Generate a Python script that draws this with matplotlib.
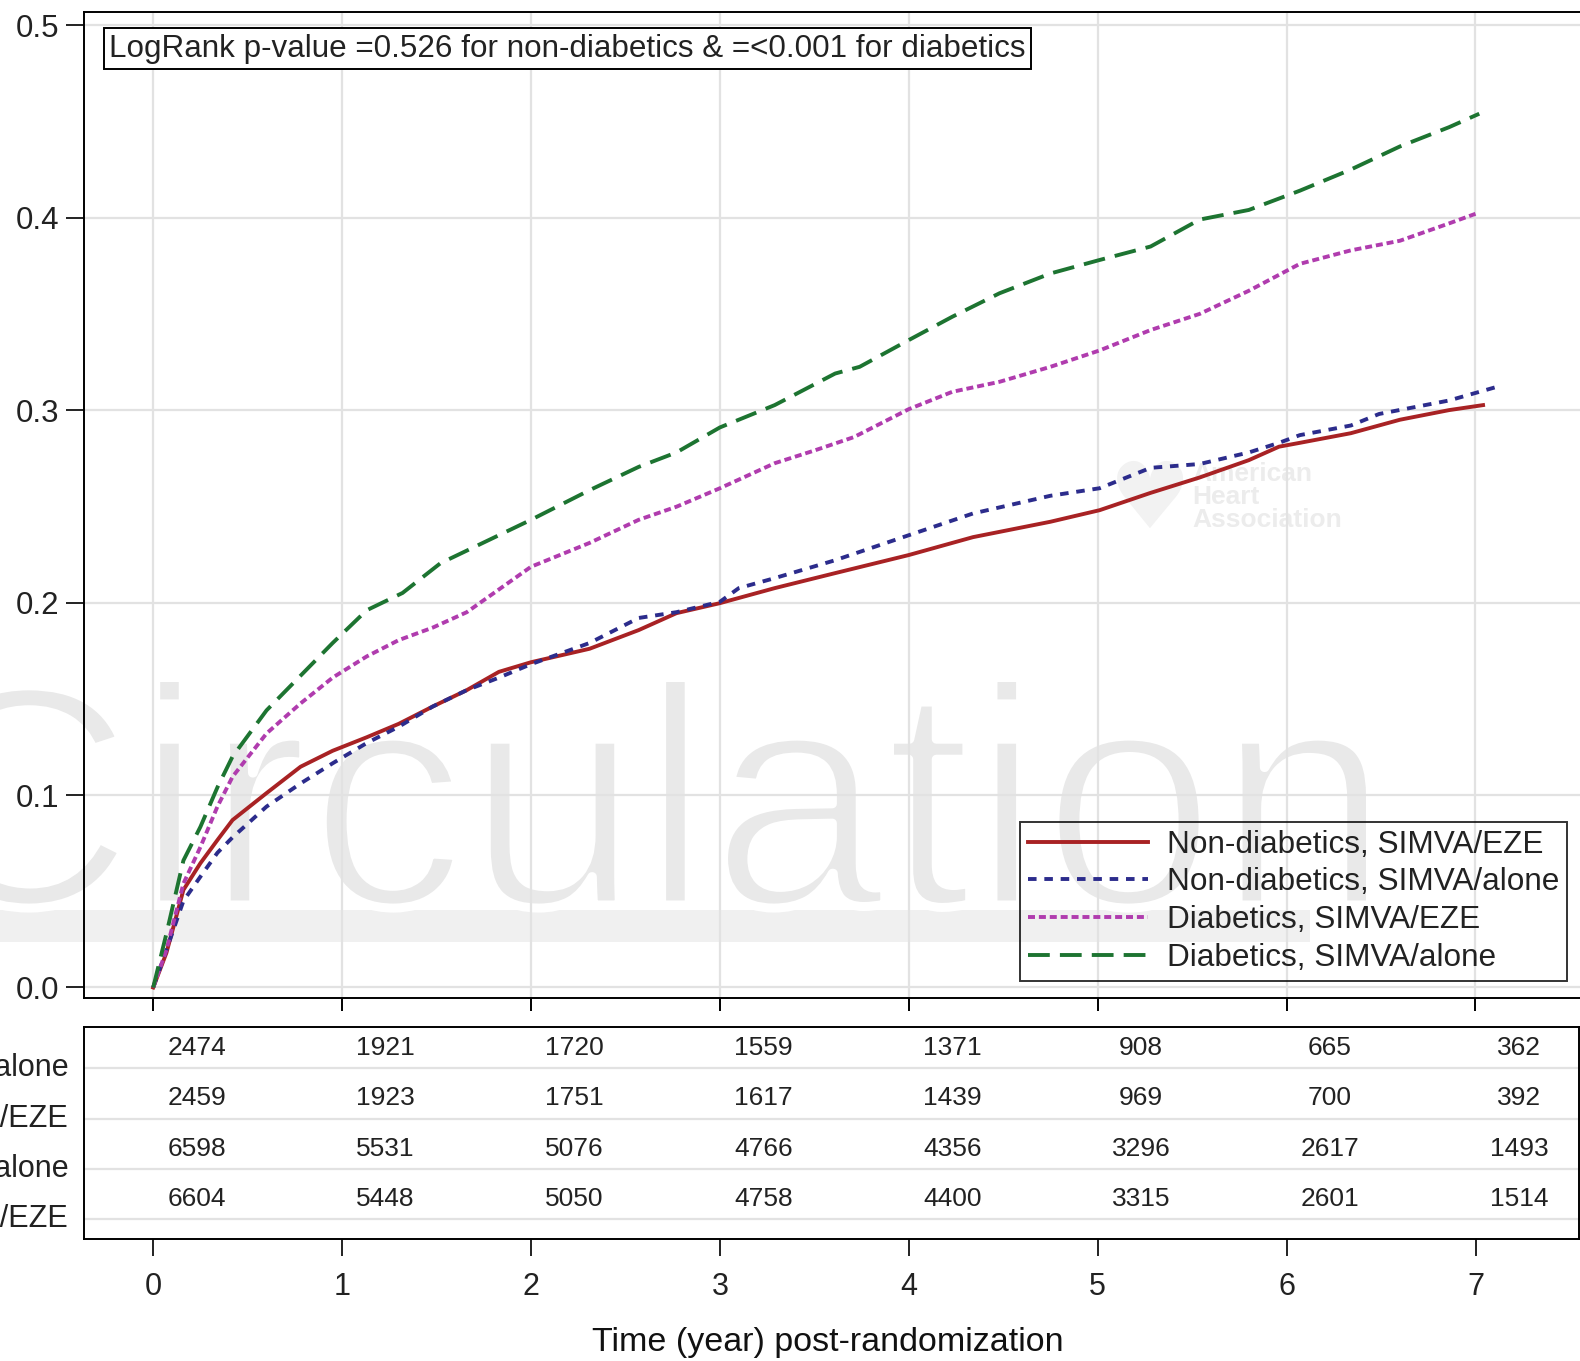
import numpy as np
import matplotlib.pyplot as plt
import matplotlib.patheffects as pe
from matplotlib.patches import Rectangle

plt.rcParams['font.family'] = ['Liberation Sans', 'DejaVu Sans']

# cumulative event curves
t_non_eze = [0, 0.07, 0.16, 0.25, 0.34, 0.42, 0.60, 0.78, 0.95, 1.13, 1.30, 1.48, 1.66, 1.83,
             2.0, 2.31, 2.57, 2.77, 3.0, 3.29, 3.61, 4.0, 4.34, 4.75, 5.01, 5.28, 5.54, 5.80,
             5.96, 6.07, 6.34, 6.60, 6.86, 7.04]
y_non_eze = [0, 0.018, 0.0507, 0.0646, 0.0766, 0.087, 0.101, 0.1147, 0.123, 0.130, 0.137, 0.146,
             0.1545, 0.164, 0.169, 0.176, 0.1857, 0.1945, 0.1997, 0.2075, 0.2153, 0.2247, 0.234,
             0.242, 0.248, 0.257, 0.265, 0.274, 0.281, 0.283, 0.288, 0.295, 0.300, 0.3026]

t_non_alone = [0, 0.07, 0.16, 0.25, 0.34, 0.42, 0.60, 0.78, 0.95, 1.13, 1.30, 1.48, 1.66, 1.83,
               2.0, 2.31, 2.57, 2.77, 3.0, 3.1, 3.29, 3.61, 4.0, 4.34, 4.75, 5.01, 5.28, 5.54,
               5.80, 5.96, 6.07, 6.34, 6.49, 6.86, 7.11]
y_non_alone = [0, 0.0195, 0.045, 0.0576, 0.070, 0.078, 0.094, 0.106, 0.1165, 0.127, 0.1355, 0.146,
               0.1545, 0.161, 0.168, 0.179, 0.192, 0.195, 0.2004, 0.2075, 0.2127, 0.222, 0.235,
               0.2463, 0.2555, 0.2594, 0.270, 0.272, 0.278, 0.283, 0.287, 0.292, 0.298, 0.305, 0.312]

t_dia_eze = [0, 0.07, 0.16, 0.25, 0.34, 0.42, 0.60, 0.78, 0.95, 1.13, 1.30, 1.48, 1.66, 2.0, 2.31,
             2.57, 2.77, 3.0, 3.29, 3.5, 3.71, 4.0, 4.23, 4.48, 4.75, 5.01, 5.28, 5.54, 5.80,
             6.07, 6.34, 6.60, 6.86, 7.0]
y_dia_eze = [0, 0.0195, 0.054, 0.073, 0.094, 0.1095, 0.132, 0.1476, 0.161, 0.172, 0.1805, 0.187,
             0.195, 0.2186, 0.231, 0.243, 0.2498, 0.2594, 0.2724, 0.279, 0.286, 0.3005, 0.3095,
             0.3147, 0.3225, 0.331, 0.3416, 0.350, 0.362, 0.376, 0.383, 0.388, 0.397, 0.402]

t_dia_alone = [0, 0.07, 0.16, 0.25, 0.34, 0.42, 0.60, 0.78, 0.95, 1.13, 1.32, 1.52, 2.0, 2.31,
               2.57, 2.77, 3.0, 3.29, 3.61, 3.74, 4.0, 4.23, 4.48, 4.75, 5.01, 5.28, 5.54, 5.80,
               6.07, 6.34, 6.60, 6.86, 7.02]
y_dia_alone = [0, 0.028, 0.066, 0.0835, 0.104, 0.120, 0.144, 0.162, 0.179, 0.196, 0.205, 0.2204,
               0.243, 0.2584, 0.2705, 0.278, 0.291, 0.3026, 0.319, 0.3225, 0.3364, 0.3485, 0.3607,
               0.371, 0.378, 0.385, 0.399, 0.404, 0.414, 0.425, 0.437, 0.447, 0.454]

# numbers at risk
risk_years = [0, 1, 2, 3, 4, 5, 6, 7]
risk_labels = ['Diabetics, SIMVA/alone', 'Diabetics, SIMVA/EZE',
               'Non-diabetics, SIMVA/alone', 'Non-diabetics, SIMVA/EZE']
risk_counts = [
    [2474, 1921, 1720, 1559, 1371, 908, 665, 362],
    [2459, 1923, 1751, 1617, 1439, 969, 700, 392],
    [6598, 5531, 5076, 4766, 4356, 3296, 2617, 1493],
    [6604, 5448, 5050, 4758, 4400, 3315, 2601, 1514],
]

W, H = 1580, 1361
X0, PPY = 153.2, 188.9  # pixel of year 0, pixels per year
fig = plt.figure(figsize=(W / 100, H / 100), dpi=100)


def fbox(left, top, right, bottom):
    return [left / W, 1 - bottom / H, (right - left) / W, (bottom - top) / H]


grid_c = '#e2e2e2'
txt_c = '#222222'

# main panel
ax = fig.add_axes(fbox(84, 12.1, 1595, 997.6))
ax.set_xlim((84 - X0) / PPY, (1595 - X0) / PPY)
ax.set_ylim(-0.00525, 0.5068)
ax.set_axisbelow(True)
ax.grid(True, color=grid_c, linewidth=1.6)
ax.set_xticks(risk_years)
ax.set_yticks([0, 0.1, 0.2, 0.3, 0.4, 0.5])
ax.set_yticklabels(['0.0', '0.1', '0.2', '0.3', '0.4', '0.5'])
ax.tick_params(axis='y', length=13, width=1.4, pad=5, labelsize=22.5, colors=txt_c)
ax.tick_params(axis='x', length=9.5, width=1.4, labelbottom=False)
for s in ax.spines.values():
    s.set_linewidth(1.4)
ax.spines['right'].set_visible(False)

# publisher watermark
ax.text(-92 / W, 1 - 905 / H, 'Circulation', transform=fig.transFigure, fontsize=226,
        color='#e9e9e9', ha='left', va='baseline', zorder=0.2, clip_on=False,
        path_effects=[pe.Normal(), pe.Stroke(linewidth=6.5, foreground='white')])
ax.add_patch(Rectangle((0, 1 - 942 / H), 1310 / W, 32 / H, transform=fig.transFigure,
                       facecolor='#f0f0f0', edgecolor='none', zorder=0.1, clip_on=False))
ax.text(1150 / W, 1 - 502 / H, '\u2665', transform=fig.transFigure, fontsize=66,
        family='DejaVu Sans', color='#f2f2f2', ha='center', va='center', zorder=0.2)
ax.text(1192 / W, 1 - 462 / H, 'American\nHeart\nAssociation', transform=fig.transFigure,
        fontsize=19, fontweight='bold', color='#ececec', ha='left', va='top',
        linespacing=0.95, zorder=0.2)

ax.plot(t_non_eze, y_non_eze, color='#a82224', lw=2.8, label='Non-diabetics, SIMVA/EZE')
ax.plot(t_non_alone, y_non_alone, color='#2c2c8c', lw=2.8, dashes=(2.2, 2.0),
        label='Non-diabetics, SIMVA/alone')
ax.plot(t_dia_eze, y_dia_eze, color='#b03cae', lw=2.8, dashes=(1.8, 1.0),
        label='Diabetics, SIMVA/EZE')
ax.plot(t_dia_alone, y_dia_alone, color='#1d7431', lw=2.8, dashes=(5.6, 2.6),
        label='Diabetics, SIMVA/alone')

leg = ax.legend(loc='lower right', bbox_to_anchor=(1567 / W, 1 - 980.5 / H),
                bbox_transform=fig.transFigure, fontsize=22.7, frameon=True, fancybox=False,
                handlelength=3.8, handletextpad=0.62, labelspacing=0.245, borderpad=0.24,
                borderaxespad=0)
leg.get_frame().set_edgecolor('black')
leg.get_frame().set_linewidth(1.4)
leg.get_frame().set_facecolor('none')
for t in leg.get_texts():
    t.set_color(txt_c)

ax.text(109 / W, 1 - 48.5 / H, 'LogRank p-value =0.526 for non-diabetics & =<0.001 for diabetics',
        transform=fig.transFigure, fontsize=22.6, color=txt_c, ha='left', va='center',
        bbox=dict(boxstyle='square,pad=0.16', facecolor='white', edgecolor='black', linewidth=1.4))

# numbers-at-risk table
tab = fig.add_axes(fbox(84, 1026.9, 1578.5, 1238.5))
tab.set_xlim((84 - X0) / PPY, (1578.5 - X0) / PPY)
tab.set_ylim(3.78, -0.42)
tab.set_yticks([])
tab.set_xticks(risk_years)
tab.tick_params(axis='x', length=12, width=1.4, pad=12, labelsize=22, colors=txt_c)
for s in tab.spines.values():
    s.set_linewidth(1.4)
for i, row in enumerate(risk_counts):
    tab.axhline(i + 0.4, color=grid_c, lw=1.6, zorder=0)
    for yr, n in zip(risk_years, row):
        tab.text(yr + 0.23, i, str(n), ha='center', va='center', fontsize=19, color=txt_c)
    tab.text(-0.45, i + 0.4, risk_labels[i], ha='right', va='center', fontsize=22,
             color=txt_c, clip_on=False)

fig.text(828 / W, 1 - 1342 / H, 'Time (year) post-randomization', ha='center', va='center',
         fontsize=24.5, color='#111111')

fig.savefig('out.png', dpi=100)
